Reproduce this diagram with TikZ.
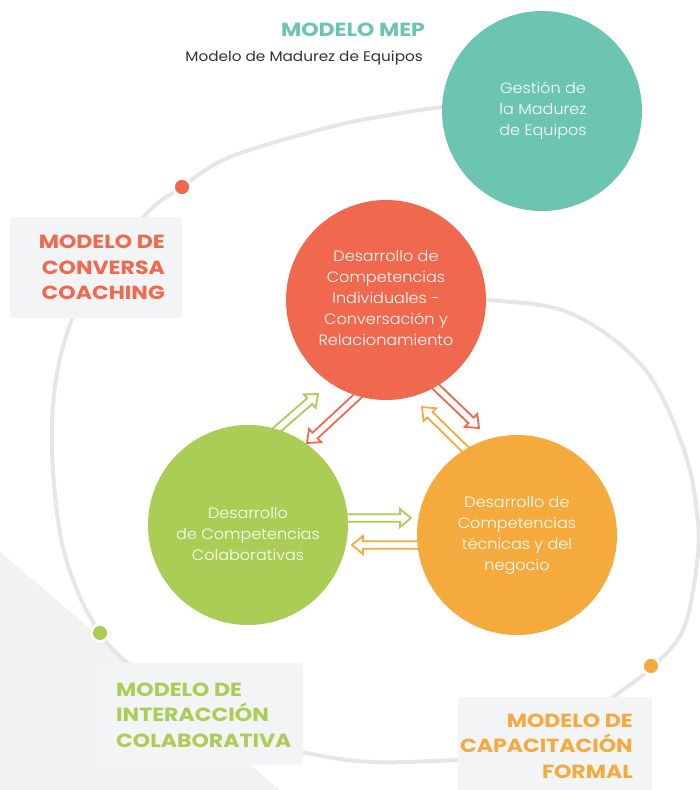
\documentclass[tikz,border=0pt]{standalone}
\usepackage{fontspec}
\setmainfont{Poppins}
\newfontfamily\lightfont{Poppins Light}[FakeStretch=1.07]
\newfontfamily\labfont{Poppins}[FakeStretch=1.16]
\newfontfamily\subfont{Poppins}[FakeStretch=1.09]
\usetikzlibrary{calc}
\definecolor{cTeal}{HTML}{6CC5B0}
\definecolor{cRed}{HTML}{F0684E}
\definecolor{cGreen}{HTML}{A9CD55}
\definecolor{cOrange}{HTML}{F5AA3E}
\definecolor{cArc}{HTML}{E6E6E6}
\definecolor{cBox}{HTML}{F3F4F5}
\definecolor{cBg}{HTML}{F2F2F2}
\definecolor{cDark}{HTML}{333333}
\tikzset{
  circ/.style={circle, fill=#1, minimum size=200pt, inner sep=0pt},
  ctext/.style={text=white, align=center, inner sep=0pt, font=\lightfont\fontsize{15}{21}\selectfont},
  lbox/.style={fill=cBox, rounded corners=3pt, inner sep=0pt},
  ltext/.style={font=\labfont\bfseries\fontsize{19}{25.5}\selectfont, text=#1, inner sep=0pt},
  arcline/.style={draw=cArc, line width=4pt},
  dotm/.style={circle, fill=#1, draw=white, line width=2.5pt, minimum size=17pt, inner sep=0pt},
  harrowst/.style={draw=#1, fill=white, line width=1.8pt, line join=miter},
}
\newcommand{\hollowarrow}[3]{%
  \filldraw[harrowst=#1] let \p1=(#2), \p2=(#3), \n1={atan2(\y2-\y1,\x2-\x1)} in
    ($(\p1)+(\n1+90:3.8pt)$)
    -- ($(\p2)+(\n1+180:11pt)+(\n1+90:3.8pt)$)
    -- ($(\p2)+(\n1+180:11pt)+(\n1+90:9pt)$)
    -- (\p2)
    -- ($(\p2)+(\n1+180:11pt)+(\n1-90:9pt)$)
    -- ($(\p2)+(\n1+180:11pt)+(\n1-90:3.8pt)$)
    -- ($(\p1)+(\n1-90:3.8pt)$) -- cycle;}
\begin{document}
\begin{tikzpicture}[x=1pt,y=-1pt]
\useasboundingbox (0,0) rectangle (700,790);
% background wedge
\fill[cBg] (0,552) -- (280,790) -- (0,790) -- cycle;
% arcs
\draw[arcline] plot[smooth, tension=0.6] coordinates {(480,106) (443,107) (390,115) (330,127) (230,157) (182,187) (150,210) (108,258) (73,317) (56,380) (52,450) (60,533) (77,590) (100,633) (127,663) (200,727) (307,753) (373,762) (457,760) (500,758)};
\draw[arcline] plot[smooth, tension=0.6] coordinates {(470,298) (490,300) (570,313) (643,367) (683,447) (697,513) (697,563) (683,630) (652,667) (623,690) (600,705)};
% dots
\node[dotm=cRed] (dotR) at (182,187) {};
\node[dotm=cGreen] (dotG) at (100,633) {};
\node[dotm=cOrange] (dotO) at (651,666) {};
% title
\node[font=\labfont\bfseries\fontsize{19}{22}\selectfont, text=cTeal, inner sep=0pt] (title) at (353,30) {MODELO MEP};
\node[font=\subfont\fontsize{14}{16}\selectfont, text=cDark, anchor=east, inner sep=0pt] (subtitle) at (423,58) {Modelo de Madurez de Equipos};
% label boxes
\node[lbox, minimum width=172pt, minimum height=101pt] (boxC) at (96,267.5) {};
\node[ltext=cRed, anchor=east, align=right] (txtC) at (165,267.5) {MODELO DE\\CONVERSA\\COACHING};
\node[lbox, minimum width=205pt, minimum height=102pt] (boxI) at (200.5,714) {};
\node[ltext=cGreen, anchor=west, align=left] (txtI) at (116,715) {MODELO DE\\INTERACCIÓN\\COLABORATIVA};
\node[lbox, minimum width=194pt, minimum height=103pt] (boxF) at (555,748.5) {};
\node[ltext=cOrange, anchor=east, align=right] (txtF) at (633,746) {MODELO DE\\CAPACITACIÓN\\FORMAL};
% arrow end points
\coordinate (a1s) at (265,440); \coordinate (a1e) at (318,394);
\coordinate (a2s) at (362,392); \coordinate (a2e) at (307,443);
\coordinate (a3s) at (432,383); \coordinate (a3e) at (479,428);
\coordinate (a4s) at (468,452); \coordinate (a4e) at (422,407);
\coordinate (a5s) at (340,518); \coordinate (a5e) at (411,518);
\coordinate (a6s) at (425,545); \coordinate (a6e) at (352,545);
\hollowarrow{cGreen}{a1s}{a1e}
\hollowarrow{cRed}{a2s}{a2e}
\hollowarrow{cRed}{a3s}{a3e}
\hollowarrow{cOrange}{a4s}{a4e}
\hollowarrow{cGreen}{a5s}{a5e}
\hollowarrow{cOrange}{a6s}{a6e}
% circles
\node[circ=cTeal] (gest) at (542,111) {};
\node[ctext] (gestT) at (543,110.5) {Gestión de\\la Madurez\\de Equipos};
\node[circ=cRed] (indiv) at (386,300) {};
\node[ctext] (indivT) at (386,298) {Desarrollo de\\Competencias\\Individuales -\\Conversación y\\Relacionamiento};
\node[circ=cGreen] (colab) at (248,525) {};
\node[ctext] (colabT) at (248,534.5) {Desarrollo\\de Competencias\\Colaborativas};
\node[circ=cOrange] (tecn) at (517,535) {};
\node[ctext] (tecnT) at (517,535) {Desarrollo de\\Competencias\\técnicas y del\\negocio};
\end{tikzpicture}
\end{document}
